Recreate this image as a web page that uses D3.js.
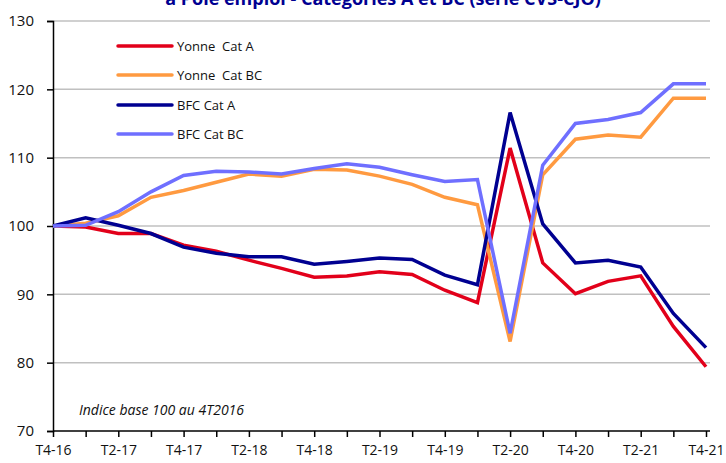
<!DOCTYPE html>
<html><head><meta charset="utf-8">
<script src="https://cdn.jsdelivr.net/npm/d3@7"></script>
<style>body{margin:0;background:#fff}svg{display:block}</style>
</head><body>
<svg id="c" width="726" height="463"></svg>
<script>
const quarters = ["T4-16","T1-17","T2-17","T3-17","T4-17","T1-18","T2-18","T3-18","T4-18","T1-19","T2-19","T3-19","T4-19","T1-20","T2-20","T3-20","T4-20","T1-21","T2-21","T3-21","T4-21"];
const tickLabels = ["T4-16","T2-17","T4-17","T2-18","T4-18","T2-19","T4-19","T2-20","T4-20","T2-21","T4-21"];
const yonneA  = [100,99.85,98.9,98.9,97.2,96.3,95.0,93.8,92.5,92.7,93.3,92.9,90.6,88.8,111.4,94.6,90.1,91.9,92.7,85.3,79.4];
const yonneBC = [100,100.4,101.5,104.2,105.2,106.4,107.6,107.3,108.3,108.2,107.3,106.1,104.2,103.1,83.1,107.5,112.7,113.3,113.0,118.7,118.7];
const bfcA    = [100,101.2,100.1,98.9,96.9,96.0,95.5,95.5,94.4,94.8,95.3,95.1,92.8,91.4,116.6,100.3,94.6,95.0,94.0,87.2,82.2];
const bfcBC   = [100,100.1,102.1,105.0,107.4,108.0,107.9,107.6,108.4,109.1,108.6,107.5,106.5,106.8,84.3,108.9,115.0,115.6,116.6,120.8,120.8];
const seriesNames = ["Yonne  Cat A","Yonne  Cat BC","BFC Cat A","BFC Cat BC"];
const seriesColors = ["#e2001a","#ff9a40","#000091","#6f6fff"];
const yTicks = [70,80,90,100,110,120,130];
const title = "à Pôle emploi - Catégories A et BC (série CVS-CJO)";
const note = "Indice base 100 au 4T2016";

const svg = d3.select("#c");
const font = "'Open Sans', 'Noto Sans', sans-serif";
const x = d3.scalePoint().domain(quarters).range([53, 706]);
const y = d3.scaleLinear().domain([70,130]).range([431, 21]);

// title (cut at top, as in the source)
svg.append("text").attr("x", 383).attr("y", 5).attr("text-anchor","middle")
  .attr("font-family", font).attr("font-weight","bold").attr("font-size",18)
  .attr("fill","#000091").text(title);

// grid
svg.append("g").selectAll("line").data(yTicks.filter(d=>d>70)).join("line")
  .attr("x1",53).attr("x2",710).attr("y1",d=>y(d)).attr("y2",d=>y(d))
  .attr("stroke","#c0c0c0").attr("stroke-width",1.5);

// y axis
const yAxis = svg.append("g").attr("transform","translate(53,0)")
  .call(d3.axisLeft(y).tickValues(yTicks).tickSize(6).tickPadding(13).tickFormat(d3.format("d")));
yAxis.select(".domain").attr("stroke","#000").attr("stroke-width",1.5);
yAxis.selectAll(".tick line").attr("stroke","#000").attr("stroke-width",1.5);
yAxis.selectAll("text").attr("font-family",font).attr("font-size",15).attr("fill","#111");

// x axis
const xAxis = svg.append("g").attr("transform","translate(0,431)")
  .call(d3.axisBottom(x).tickSize(6).tickPadding(8).tickFormat(d => tickLabels.includes(d) ? d : ""));
xAxis.select(".domain").attr("stroke","#000").attr("stroke-width",1.5).attr("d","M53,0H710");
xAxis.selectAll(".tick line").attr("stroke","#000").attr("stroke-width",1.5);
xAxis.selectAll("text").attr("font-family",font).attr("font-size",14).attr("fill","#111");

// lines
const data = [yonneA, yonneBC, bfcA, bfcBC];
const line = d3.line().x((d,i)=>x(quarters[i])).y(d=>y(d));
svg.append("g").selectAll("path").data(data).join("path")
  .attr("d", line).attr("fill","none")
  .attr("stroke",(d,i)=>seriesColors[i]).attr("stroke-width",3.5)
  .attr("stroke-linejoin","miter");

// legend
const lg = svg.append("g");
const legY = [46,75,105,134];
seriesNames.forEach((n,i)=>{
  lg.append("line").attr("x1",118).attr("x2",172).attr("y1",legY[i]).attr("y2",legY[i])
    .attr("stroke",seriesColors[i]).attr("stroke-width",3.5).attr("stroke-linecap","round");
  lg.append("text").attr("x",177).attr("y",legY[i]).attr("dy","0.35em")
    .attr("font-family",font).attr("font-size",13).attr("fill","#111")
    .style("white-space","pre").attr("xml:space","preserve").text(n);
});

// note
svg.append("text").attr("x",79).attr("y",415).attr("font-family",font)
  .attr("font-style","italic").attr("font-size",14).attr("fill","#111").text(note);
</script>
</body></html>
